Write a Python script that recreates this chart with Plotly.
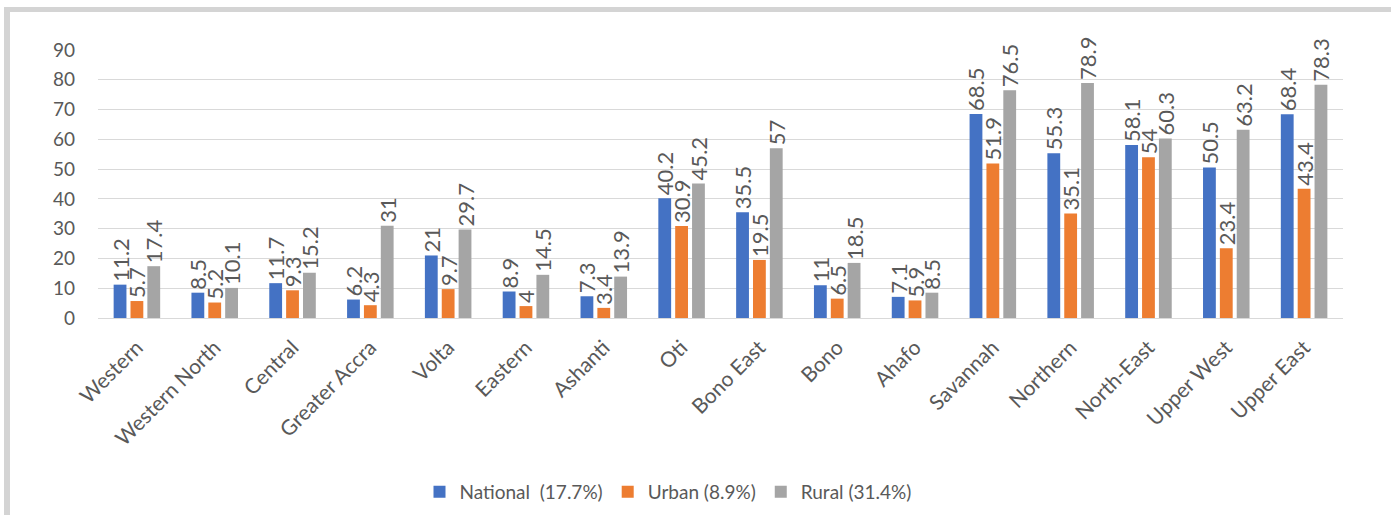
import plotly.graph_objects as go

# Regional poverty incidence (%) by locality
regions = ["Western", "Western North", "Central", "Greater Accra", "Volta", "Eastern",
           "Ashanti", "Oti", "Bono East", "Bono", "Ahafo", "Savannah", "Northern",
           "North-East", "Upper West", "Upper East"]
national = [11.2, 8.5, 11.7, 6.2, 21, 8.9, 7.3, 40.2, 35.5, 11, 7.1, 68.5, 55.3, 58.1, 50.5, 68.4]
urban = [5.7, 5.2, 9.3, 4.3, 9.7, 4, 3.4, 30.9, 19.5, 6.5, 5.9, 51.9, 35.1, 54, 23.4, 43.4]
rural = [17.4, 10.1, 15.2, 31, 29.7, 14.5, 13.9, 45.2, 57, 18.5, 8.5, 76.5, 78.9, 60.3, 63.2, 78.3]
series_names = ["National\u00a0 (17.7%)", "Urban (8.9%)", "Rural (31.4%)"]
y_ticks = [0, 10, 20, 30, 40, 50, 60, 70, 80, 90]

colors = ["#4472C4", "#ED7D31", "#A5A5A5"]
FONT = "Lato"
TEXT = "#595959"

W, H = 1391, 515
ML, MR, MT, MB = 98, 48, 50, 197
PW = W - ML - MR
PH = H - MT - MB


def px_x(p):
    return (p - ML) / PW


def px_y(p):
    return (H - MB - p) / PH


fig = go.Figure()
for name, vals, col in zip(series_names, [national, urban, rural], colors):
    fig.add_trace(go.Bar(
        x=regions, y=vals, name=name,
        marker=dict(color=col, line=dict(width=0)),
        text=[f"{v:g}" for v in vals],
        textposition="outside",
        textangle=-90,
        textfont=dict(family=FONT, size=22, color=TEXT),
        constraintext="none",
        cliponaxis=False,
    ))

# light frame around the chart
frame = "#D4D4D4"
fig.add_shape(type="rect", xref="paper", yref="paper",
              x0=px_x(4), x1=px_x(W + 5), y0=px_y(12), y1=px_y(7),
              fillcolor=frame, line=dict(width=0), layer="below")
fig.add_shape(type="rect", xref="paper", yref="paper",
              x0=px_x(4), x1=px_x(10), y0=px_y(H + 5), y1=px_y(12),
              fillcolor=frame, line=dict(width=0), layer="below")

fig.update_layout(
    width=W, height=H,
    margin=dict(l=ML, r=MR, t=MT, b=MB, autoexpand=False),
    paper_bgcolor="white", plot_bgcolor="white",
    barmode="group", bargap=0.35, bargroupgap=0.24,
    font=dict(family=FONT, color=TEXT),
    showlegend=True,
    legend=dict(orientation="h", x=px_x(668), xanchor="center",
                y=px_y(492), yanchor="middle",
                font=dict(family=FONT, size=19, color=TEXT),
                itemwidth=30, traceorder="normal"),
)
fig.update_xaxes(
    tickangle=-45, tickfont=dict(family=FONT, size=21, color=TEXT),
    showline=True, linecolor="#D9D9D9", linewidth=1, automargin=False,
    ticks="", showgrid=False, ticklabelstandoff=8,
)
fig.update_yaxes(
    range=[0, 90], tickvals=y_ticks, automargin=False,
    tickfont=dict(family=FONT, size=19, color=TEXT),
    showgrid=True, gridcolor="#D9D9D9", gridwidth=1,
    zeroline=False, showline=False, ticks="", ticklabelstandoff=22,
)

fig.write_html("out.html")
